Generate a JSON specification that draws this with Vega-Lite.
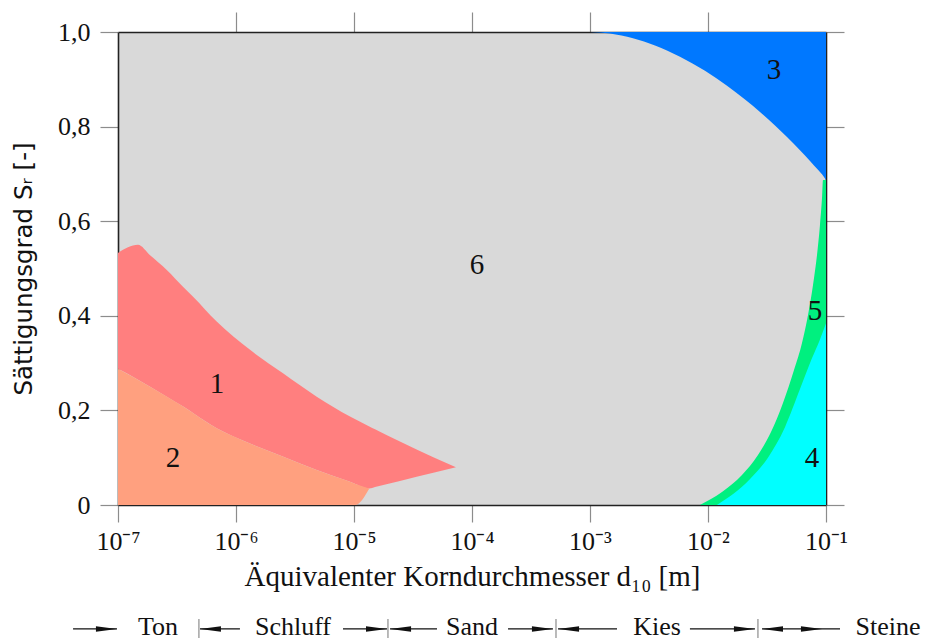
{
  "$schema": "https://vega.github.io/schema/vega-lite/v6.json",
  "width": 708,
  "height": 473,
  "autosize": {"type": "none"},
  "padding": {"left": 118, "top": 32, "right": 102, "bottom": 136},
  "background": "white",
  "config": {
    "view": {"fill": "#d9d9d9", "stroke": null},
    "axis": {"grid": false, "zindex": 1}
  },
  "datasets": {
    "r1": [
      {"x": 1e-7, "lo": 0.288, "hi": 0.533},
      {"x": 1.477e-7, "lo": 0.265, "hi": 0.55},
      {"x": 1.87e-7, "lo": 0.25, "hi": 0.528},
      {"x": 2.59e-7, "lo": 0.229, "hi": 0.497},
      {"x": 3.57e-7, "lo": 0.208, "hi": 0.461},
      {"x": 4.35e-7, "lo": 0.194, "hi": 0.44},
      {"x": 6.86e-7, "lo": 0.162, "hi": 0.388},
      {"x": 1.315e-6, "lo": 0.13, "hi": 0.328},
      {"x": 2.52e-6, "lo": 0.102, "hi": 0.278},
      {"x": 4.83e-6, "lo": 0.074, "hi": 0.229},
      {"x": 9.25e-6, "lo": 0.049, "hi": 0.187},
      {"x": 1.349e-5, "lo": 0.035, "hi": 0.166},
      {"x": 1.507e-5, "lo": 0.038, "hi": 0.16},
      {"x": 2.45e-5, "lo": 0.051, "hi": 0.134},
      {"x": 4.7e-5, "lo": 0.068, "hi": 0.101},
      {"x": 7.31e-5, "lo": 0.08, "hi": 0.08}
    ],
    "r2": [
      {"x": 1e-7, "lo": 0, "hi": 0.288},
      {"x": 1.87e-7, "lo": 0, "hi": 0.25},
      {"x": 3.57e-7, "lo": 0, "hi": 0.208},
      {"x": 6.86e-7, "lo": 0, "hi": 0.162},
      {"x": 1.315e-6, "lo": 0, "hi": 0.13},
      {"x": 2.52e-6, "lo": 0, "hi": 0.102},
      {"x": 4.83e-6, "lo": 0, "hi": 0.074},
      {"x": 9.25e-6, "lo": 0, "hi": 0.049},
      {"x": 1.018e-5, "lo": 0, "hi": 0.045},
      {"x": 1.349e-5, "lo": 0.035, "hi": 0.035}
    ],
    "r3": [
      {"x": 1e-3, "lo": 1.0},
      {"x": 1.477e-3, "lo": 0.9968},
      {"x": 2.314e-3, "lo": 0.9867},
      {"x": 3.555e-3, "lo": 0.9715},
      {"x": 5.79e-3, "lo": 0.9478},
      {"x": 9.43e-3, "lo": 0.918},
      {"x": 1.449e-2, "lo": 0.8865},
      {"x": 2.059e-2, "lo": 0.8573},
      {"x": 2.758e-2, "lo": 0.8309},
      {"x": 3.696e-2, "lo": 0.8021},
      {"x": 4.672e-2, "lo": 0.7778},
      {"x": 6.02e-2, "lo": 0.7499},
      {"x": 7.32e-2, "lo": 0.7273},
      {"x": 8.55e-2, "lo": 0.7087},
      {"x": 9.25e-2, "lo": 0.6992},
      {"x": 0.1, "lo": 0.6871}
    ],
    "r5": [
      {"x": 8.55e-3, "hi": 0},
      {"x": 1.314e-2, "hi": 0.0275},
      {"x": 1.941e-2, "hi": 0.0634},
      {"x": 2.652e-2, "hi": 0.1057},
      {"x": 3.419e-2, "hi": 0.1543},
      {"x": 4.32e-2, "hi": 0.2156},
      {"x": 5.356e-2, "hi": 0.2854},
      {"x": 6.26e-2, "hi": 0.3425},
      {"x": 7.04e-2, "hi": 0.4017},
      {"x": 7.76e-2, "hi": 0.4651},
      {"x": 8.39e-2, "hi": 0.5285},
      {"x": 8.89e-2, "hi": 0.592},
      {"x": 9.25e-2, "hi": 0.649},
      {"x": 9.43e-2, "hi": 0.687},
      {"x": 0.1, "hi": 0.687}
    ],
    "r4": [
      {"x": 1.19e-2, "hi": 0},
      {"x": 2.27e-2, "hi": 0.055},
      {"x": 3.22e-2, "hi": 0.1},
      {"x": 4.5e-2, "hi": 0.165},
      {"x": 6.02e-2, "hi": 0.245},
      {"x": 7.6e-2, "hi": 0.31},
      {"x": 8.89e-2, "hi": 0.35},
      {"x": 0.1, "hi": 0.384}
    ],
    "labels": [
      {"x": 6.9e-7, "y": 0.237, "t": "1"},
      {"x": 2.92e-7, "y": 0.08, "t": "2"},
      {"x": 3.62e-2, "y": 0.901, "t": "3"},
      {"x": 7.6e-2, "y": 0.08, "t": "4"},
      {"x": 8.07e-2, "y": 0.391, "t": "5"},
      {"x": 1.1e-4, "y": 0.488, "t": "6"}
    ],
    "lines": [
      {"x": 4.16e-8, "x2": 9.8e-8},
      {"x": 4.95e-7, "x2": 1.08e-6},
      {"x": 8.07e-6, "x2": 1.905e-5},
      {"x": 2.02e-5, "x2": 5.05e-5},
      {"x": 2.02e-4, "x2": 4.85e-4},
      {"x": 5.36e-4, "x2": 1.695e-3},
      {"x": 7.03e-3, "x2": 2.5e-2},
      {"x": 2.87e-2, "x2": 0.1315}
    ],
    "heads": [
      {"x": 9.8e-8, "dir": "right"},
      {"x": 4.95e-7, "dir": "left"},
      {"x": 1.905e-5, "dir": "right"},
      {"x": 2.02e-5, "dir": "left"},
      {"x": 4.85e-4, "dir": "right"},
      {"x": 5.36e-4, "dir": "left"},
      {"x": 2.5e-2, "dir": "right"},
      {"x": 2.87e-2, "dir": "left"},
      {"x": 9.24e-2, "dir": "right"}
    ],
    "bars": [
      {"x": 4.85e-7},
      {"x": 1.94e-5},
      {"x": 5.15e-4},
      {"x": 2.65e-2}
    ],
    "classes": [
      {"x": 2.18e-7, "t": "Ton"},
      {"x": 3.04e-6, "t": "Schluff"},
      {"x": 1e-4, "t": "Sand"},
      {"x": 3.7e-3, "t": "Kies"},
      {"x": 0.335, "t": "Steine"}
    ]
  },
  "layer": [
    {
      "data": {"name": "r1"},
      "mark": {"type": "area", "color": "#ff7f7f", "orient": "vertical", "interpolate": "monotone"},
      "encoding": {
        "x": {
          "field": "x", "type": "quantitative",
          "scale": {"type": "log", "domain": [1e-7, 0.1], "nice": false},
          "axis": {
            "orient": "bottom",
            "values": [1e-7, 1e-6, 1e-5, 1e-4, 1e-3, 1e-2, 1e-1],
            "labelExpr": "'10⁻' + ['⁰','¹','²','³','⁴','⁵','⁶','⁷'][round(-log(datum.value)/LN10)]",
            "tickSize": 17, "tickColor": "#8c8c8c", "tickWidth": 1.2,
            "domainColor": "#222", "domainWidth": 1.6,
            "labelFont": "Liberation Serif", "labelFontSize": 26, "labelColor": "#111", "labelPadding": 6,
            "labelFlush": false, "labelOverlap": false,
            "title": "Äquivalenter Korndurchmesser d₁₀ [m]",
            "titleFont": "Liberation Serif", "titleFontSize": 29, "titleFontWeight": "normal", "titleColor": "#111", "titlePadding": 8
          }
        },
        "y": {
          "field": "lo", "type": "quantitative", "stack": null,
          "scale": {"domain": [0, 1], "nice": false},
          "axis": {
            "orient": "left",
            "values": [0, 0.2, 0.4, 0.6, 0.8, 1.0],
            "labelExpr": "datum.value == 0 ? '0' : replace(format(datum.value, '.1f'), '.', ',')",
            "tickSize": 18, "tickColor": "#8c8c8c", "tickWidth": 1.2,
            "domainColor": "#222", "domainWidth": 1.6,
            "labelFont": "Liberation Serif", "labelFontSize": 26, "labelColor": "#111", "labelPadding": 10,
            "labelFlush": false, "labelOverlap": false,
            "title": "Sättigungsgrad Sᵣ [-]",
            "titleFont": "DejaVu Sans", "titleFontSize": 24.5, "titleFontWeight": "normal", "titleColor": "#111", "titlePadding": 21
          }
        },
        "y2": {"field": "hi"}
      }
    },
    {
      "data": {"name": "r2"},
      "mark": {"type": "area", "color": "#ffa07f", "orient": "vertical", "interpolate": "monotone"},
      "encoding": {
        "x": {"field": "x", "type": "quantitative", "axis": null},
        "y": {"field": "lo", "type": "quantitative", "stack": null, "axis": null},
        "y2": {"field": "hi"}
      }
    },
    {
      "data": {"name": "r3"},
      "mark": {"type": "area", "color": "#0078ff", "orient": "vertical", "interpolate": "monotone"},
      "encoding": {
        "x": {"field": "x", "type": "quantitative", "axis": null},
        "y": {"field": "lo", "type": "quantitative", "stack": null, "axis": null},
        "y2": {"datum": 1}
      }
    },
    {
      "data": {"name": "r5"},
      "mark": {"type": "area", "color": "#00f07f", "orient": "vertical", "interpolate": "monotone"},
      "encoding": {
        "x": {"field": "x", "type": "quantitative", "axis": null},
        "y": {"field": "hi", "type": "quantitative", "stack": null, "axis": null},
        "y2": {"datum": 0}
      }
    },
    {
      "data": {"name": "r4"},
      "mark": {"type": "area", "color": "#00ffff", "orient": "vertical", "interpolate": "monotone"},
      "encoding": {
        "x": {"field": "x", "type": "quantitative", "axis": null},
        "y": {"field": "hi", "type": "quantitative", "stack": null, "axis": null},
        "y2": {"datum": 0}
      }
    },
    {
      "data": {"name": "labels"},
      "mark": {"type": "text", "font": "Liberation Serif", "fontSize": 29, "color": "#111", "baseline": "alphabetic", "align": "center"},
      "encoding": {
        "x": {
          "field": "x", "type": "quantitative",
          "axis": {
            "orient": "top", "values": [1e-6, 1e-5, 1e-4, 1e-3, 1e-2],
            "labels": false, "title": null,
            "tickSize": 20, "tickColor": "#8c8c8c", "tickWidth": 1.2,
            "domainColor": "#222", "domainWidth": 1.6
          }
        },
        "y": {
          "field": "y", "type": "quantitative",
          "axis": {
            "orient": "right", "values": [0, 0.2, 0.4, 0.6, 0.8, 1.0],
            "labels": false, "title": null,
            "tickSize": 18, "tickColor": "#8c8c8c", "tickWidth": 1.2,
            "domainColor": "#222", "domainWidth": 1.6
          }
        },
        "text": {"field": "t"}
      }
    },
    {
      "data": {"name": "lines"},
      "mark": {"type": "rule", "color": "#111", "strokeWidth": 1.3},
      "encoding": {
        "x": {"field": "x", "type": "quantitative", "axis": null},
        "x2": {"field": "x2"},
        "y": {"datum": -0.262, "axis": null}
      }
    },
    {
      "data": {"name": "heads"},
      "mark": {"type": "point", "filled": true, "opacity": 1, "color": "#111", "size": 400, "strokeWidth": 0},
      "encoding": {
        "x": {"field": "x", "type": "quantitative", "axis": null},
        "y": {"datum": -0.262, "axis": null},
        "shape": {
          "field": "dir", "type": "nominal", "legend": null,
          "scale": {"domain": ["right", "left"], "range": ["M-2.1,-0.28L0,0L-2.1,0.28Z", "M2.1,-0.28L0,0L2.1,0.28Z"]}
        }
      }
    },
    {
      "data": {"name": "bars"},
      "mark": {"type": "rule", "color": "#8c8c8c", "strokeWidth": 1.2},
      "encoding": {
        "x": {"field": "x", "type": "quantitative", "axis": null},
        "y": {"datum": -0.241, "axis": null},
        "y2": {"datum": -0.281}
      }
    },
    {
      "data": {"name": "classes"},
      "mark": {"type": "text", "font": "Liberation Serif", "fontSize": 26, "color": "#111", "baseline": "alphabetic", "align": "center"},
      "encoding": {
        "x": {"field": "x", "type": "quantitative", "axis": null},
        "y": {"datum": -0.2748, "axis": null},
        "text": {"field": "t"}
      }
    }
  ],
  "resolve": {"axis": {"x": "independent", "y": "independent"}}
}
